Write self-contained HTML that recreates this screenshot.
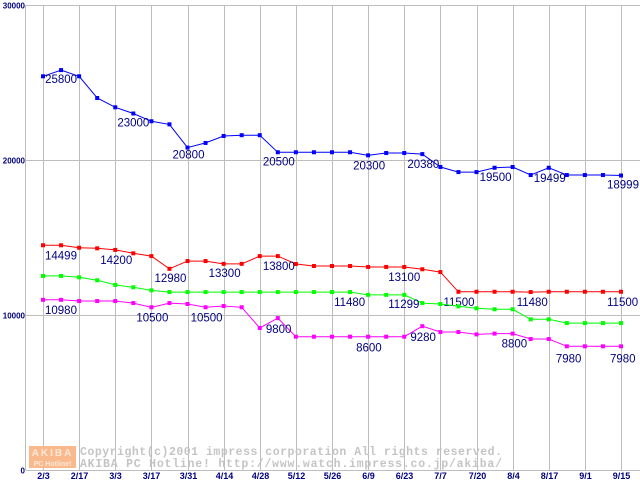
<!DOCTYPE html>
<html><head><meta charset="utf-8"><style>
html,body{margin:0;padding:0;background:#fff;}
svg{display:block;}
</style></head><body>
<svg id="chart" width="640" height="480" xmlns="http://www.w3.org/2000/svg"></svg>
<script>
const xLabels = ["2/3","2/17","3/3","3/17","3/31","4/14","4/28","5/12","5/26","6/9","6/23","7/7","7/20","8/4","8/17","9/1","9/15"];
const yTicks = [0,10000,20000,30000];
const blueValues = [25400,25800,25400,24000,23400,23000,22500,22300,20800,21100,21550,21600,21600,20500,20500,20500,20500,20500,20300,20450,20450,20380,19550,19220,19220,19500,19550,19030,19499,19030,19030,19030,18999];
const redValues = [14499,14499,14340,14300,14200,13980,13800,12980,13480,13480,13300,13300,13800,13800,13290,13160,13160,13160,13100,13100,13100,12950,12770,11500,11500,11500,11500,11480,11500,11500,11500,11500,11500];
const greenValues = [12520,12520,12430,12240,11940,11790,11590,11480,11480,11480,11480,11480,11480,11480,11480,11480,11480,11480,11299,11299,11299,10770,10710,10560,10430,10370,10370,9720,9720,9480,9480,9480,9480];
const magentaValues = [10980,10980,10900,10900,10900,10770,10500,10770,10710,10500,10580,10500,9160,9800,8600,8600,8600,8600,8600,8600,8600,9280,8900,8900,8750,8800,8800,8450,8450,7980,7980,7980,7980];
// labels: [series, pointIndex, dx, dy]
const blueLabels = [[1,-16,4],[5,-16,4],[8,-15,2],[13,-15,4],[18,-15,5],[21,-15,5],[25,-15,4],[28,-15,5],[32,-14,4]];
const redLabels = [[0,2,5],[4,-15,5],[7,-15,4],[10,-15,4],[13,-15,5],[20,-16,5],[23,-15,5],[27,-14,5],[32,-14,5]];
const greenLabels = [[17,-16,5],[20,-16,4]];
const magentaLabels = [[0,2,5],[6,-15,5],[9,-15,5],[13,-12,6],[18,-12,6],[21,-12,6],[26,-11,5],[29,-11,7],[32,-11,7]];

const NS="http://www.w3.org/2000/svg";
const svg=document.getElementById('chart');
const X0=43, STEP=(621-43)/32, Y0=470, YMAX=30000, YTOP=5;
function xPos(i){return X0+i*STEP;}
function yPos(v){return Y0-(v/YMAX)*(Y0-YTOP);}
function mk(tag,attrs){const e=document.createElementNS(NS,tag);for(const k in attrs)e.setAttribute(k,attrs[k]);return e;}

// grid
const grid=mk('g',{});


svg.appendChild(grid);
xLabels.forEach((t,i)=>{
  const x=Math.round(xPos(i*2))+0.5;
  const l=mk('line',{x1:x,y1:YTOP,x2:x,y2:Y0,stroke:'#bdbdbd','stroke-width':1});
  
  
  grid.appendChild(l);
  const tx=mk('text',{x:x,y:479,'text-anchor':'middle','font-family':'Liberation Sans, sans-serif','font-size':9,'font-weight':'bold',fill:'#000080'});
  tx.textContent=t;
  
  
  svg.appendChild(tx);
});
yTicks.forEach(v=>{
  const y=Math.round(yPos(v))+0.5;
  const l=mk('line',{x1:26,y1:y,x2:640,y2:y,stroke:'#bdbdbd','stroke-width':1});
  
  
  grid.appendChild(l);
  const tx=mk('text',{x:25,y:y+3,'text-anchor':'end','font-family':'Liberation Sans, sans-serif','font-size':8,'font-weight':'bold',fill:'#000080'});
  tx.textContent=v;
  
  
  svg.appendChild(tx);
});
const yaxis=mk('line',{x1:25.5,y1:YTOP,x2:25.5,y2:Y0,stroke:'#bdbdbd','stroke-width':1});


svg.appendChild(yaxis);

// watermark
const logo=mk('rect',{x:29,y:446,width:47,height:22,fill:'#f9b98c'});


svg.appendChild(logo);
const lt1=mk('text',{x:52.5,y:456,'text-anchor':'middle','font-family':'Liberation Sans, sans-serif','font-size':10,'font-weight':'bold',fill:'#fde8d8','letter-spacing':2});
lt1.textContent='AKIBA';


svg.appendChild(lt1);
const lt2=mk('text',{x:52.5,y:466,'text-anchor':'middle','font-family':'Liberation Sans, sans-serif','font-size':7,'font-weight':'bold',fill:'#fde8d8'});
lt2.textContent='PC Hotline!';


svg.appendChild(lt2);
const c1=mk('text',{x:80,y:455,'font-family':'Liberation Mono, monospace','font-size':11.5,'font-weight':'bold',fill:'#c4c4c4','textLength':422});
c1.textContent='Copyright(c)2001 impress corporation All rights reserved.';


svg.appendChild(c1);
const c2=mk('text',{x:80,y:467,'font-family':'Liberation Mono, monospace','font-size':11.5,'font-weight':'bold',fill:'#c4c4c4','textLength':422});
c2.textContent='AKIBA PC Hotline!  http://www.watch.impress.co.jp/akiba/';


svg.appendChild(c2);

function drawSeries(vals,labels,color,name){
  const g=mk('g',{});
  
  
  svg.appendChild(g);
  const pts=vals.map((v,i)=>xPos(i).toFixed(1)+','+yPos(v).toFixed(1)).join(' ');
  const pl=mk('polyline',{points:pts,fill:'none',stroke:color,'stroke-width':1});
  
  
  g.appendChild(pl);
  vals.forEach((v,i)=>{
    const r=mk('rect',{x:xPos(i)-2,y:yPos(v)-2,width:4,height:4,fill:color});
    
    
    g.appendChild(r);
  });
  labels.forEach(([i,dx,dy])=>{
    const t=mk('text',{x:xPos(i)+dx,y:yPos(vals[i])+dy+9,'font-family':'Liberation Sans, sans-serif','font-size':11.5,fill:'#000080'});
    t.textContent=vals[i];
    
    
    g.appendChild(t);
  });
}
drawSeries(blueValues,blueLabels,'#0000ff','blue');
drawSeries(redValues,redLabels,'#ff0000','red');
drawSeries(greenValues,greenLabels,'#00ff00','green');
drawSeries(magentaValues,magentaLabels,'#ff00ff','magenta');
</script>
</body></html>
